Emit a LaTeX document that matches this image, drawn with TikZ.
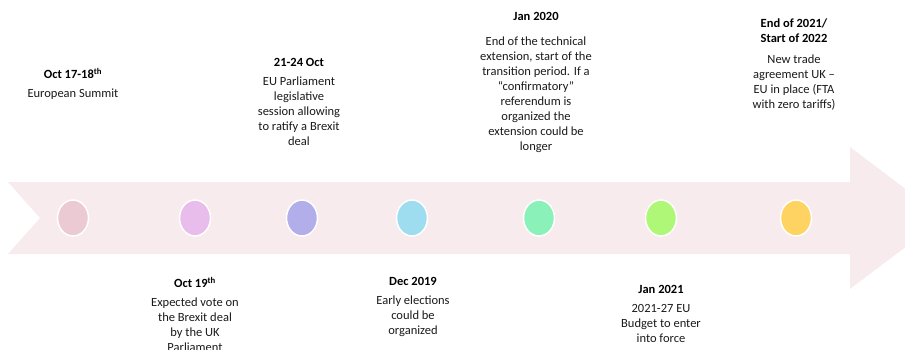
\documentclass[tikz,border=0pt]{standalone}
\usepackage{fontspec}
\setmainfont{Carlito}
\usetikzlibrary{positioning,shapes.geometric}
\definecolor{band}{HTML}{F8EBED}
\definecolor{ink}{HTML}{1A1A1A}
\definecolor{dotrose}{HTML}{EBCAD3}
\definecolor{dotorchid}{HTML}{E8BDEB}
\definecolor{dotlilac}{HTML}{B2AEEA}
\definecolor{dotsky}{HTML}{9DDDEF}
\definecolor{dotmint}{HTML}{8AF2B8}
\definecolor{dotlime}{HTML}{AFF777}
\definecolor{dotsun}{HTML}{FFD362}

\begin{document}
\begin{tikzpicture}[x=1pt, y=-1pt, every node/.style={font=\fontsize{12.5}{15}\selectfont},
  dot/.style={ellipse, minimum width=31pt, minimum height=36pt, inner sep=0pt, draw=white, line width=1.5pt},
  head/.style={align=center, inner sep=0pt, anchor=north, font=\fontsize{12.5}{15}\selectfont\bfseries},
  body/.style={align=center, inner sep=0pt, text=ink},
]
\useasboundingbox (0,0) rectangle (905,350);
\clip (0,0) rectangle (905,350);

% Timeline arrow
\fill[band] (8,182) -- (850,182) -- (850,147) -- (944,218) -- (850,289) -- (850,254) -- (8,254) -- (40,218) -- cycle;

% Milestones
\node[dot, fill=dotrose] (summit) at (73,218) {};
\node[dot, fill=dotorchid] (vote) at (195,218) {};
\node[dot, fill=dotlilac] (ratify) at (302,218) {};
\node[dot, fill=dotsky] (elect) at (412,218) {};
\node[dot, fill=dotmint] (transit) at (539,218) {};
\node[dot, fill=dotlime] (budget) at (661,218) {};
\node[dot, fill=dotsun] (trade) at (796,218) {};

% Events above the arrow
\node[head] (summitdate) at (73,68) {Oct 17-18\textsuperscript{th}};
\node[body, below=10pt of summitdate] (summittext) {European Summit};

\node[head] (ratifydate) at (299,58) {21-24 Oct};
\node[body, below=10pt of ratifydate] (ratifytext) {EU Parliament\\legislative\\session allowing\\to ratify a Brexit\\deal};

\node[head] (transitdate) at (536,12) {Jan 2020};
\node[body, below=16pt of transitdate] (transittext) {End of the technical\\extension, start of the\\transition period. If a\\“confirmatory”\\referendum is\\organized the\\extension could be\\longer};

\node[head] (tradedate) at (794,19) {End of 2021/\\Start of 2022};
\node[body, below=11pt of tradedate] (tradetext) {New trade\\agreement UK –\\EU in place (FTA\\with zero tariffs)};

% Events below the arrow
\node[head] (votedate) at (195,277) {Oct 19\textsuperscript{th}};
\node[body, below=10pt of votedate] (votetext) {Expected vote on\\the Brexit deal\\by the UK\\Parliament};

\node[head] (electdate) at (413,277) {Dec 2019};
\node[body, below=10pt of electdate] (electtext) {Early elections\\could be\\organized};

\node[head] (budgetdate) at (661,285) {Jan 2021};
\node[body, below=10pt of budgetdate] (budgettext) {2021-27 EU\\Budget to enter\\into force};

\end{tikzpicture}
\end{document}
